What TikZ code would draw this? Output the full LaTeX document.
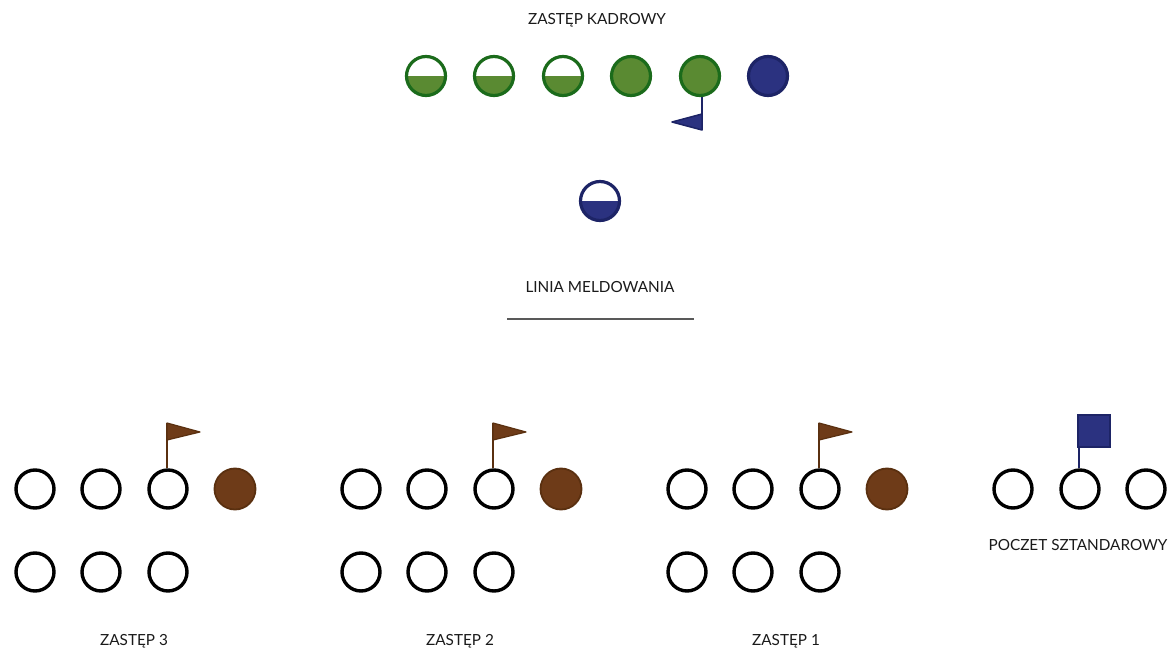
\documentclass[tikz,border=0pt]{standalone}
\usepackage{fontspec}
\setmainfont{Lato}
\definecolor{gfill}{HTML}{5A8A32}
\definecolor{gline}{HTML}{1B6B1B}
\definecolor{nfill}{HTML}{2B3280}
\definecolor{nline}{HTML}{1D2466}
\definecolor{bfill}{HTML}{6E3B18}
\definecolor{bline}{HTML}{5A3010}
\definecolor{txt}{HTML}{1A1A1A}
\begin{document}
\begin{tikzpicture}[x=1pt,y=-1pt,
  person/.style={circle,draw=black,line width=3.4pt,minimum size=38pt,inner sep=0pt,fill=white},
  half/.style={circle,draw=#1line,line width=3.2pt,minimum size=39pt,inner sep=0pt,fill=white,
    path picture={\fill[#1fill] (path picture bounding box.west) rectangle (path picture bounding box.south east);}},
  full/.style={circle,draw=#1line,line width=3.2pt,minimum size=39pt,inner sep=0pt,fill=#1fill},
  lead/.style={circle,draw=bline,line width=1.8pt,minimum size=41pt,inner sep=0pt,fill=bfill},
  label/.style={font=\fontsize{15.3}{18}\selectfont,text=txt,inner sep=0pt},
  pole/.style={line width=2.4pt,draw=#1}
]
\useasboundingbox (0,0) rectangle (1173,652);
\fill[white] (0,0) rectangle (1173,652);

% Zastep kadrowy
\node[label] (tk) at (597,20) {ZASTĘP KADROWY};
\node[half=g] (k1) at (426,76) {};
\node[half=g] (k2) at (494,76) {};
\node[half=g] (k3) at (563,76) {};
\node[full=g] (k4) at (631,76) {};
\node[full=g] (k5) at (700,76) {};
\node[full=n] (k6) at (768,76) {};
\coordinate (kf) at (702,130);
\draw[pole=nline] (k5.south -| kf) -- (kf);
\filldraw[fill=nfill,draw=nline,line width=1.5pt,line join=round] (kf) -- ++(0,-16) -- ++(-30,8) -- cycle;

\node[half=n] (dh) at (600,201) {};

\node[label] (tl) at (600,287) {LINIA MELDOWANIA};
\coordinate (la) at (507,319);
\coordinate (lb) at (694,319);
\draw[line width=1.4pt,draw=black!65] (la) -- (lb);

% Zastepy
\foreach \g/\x/\n in {3/0/3,2/326/2,1/652/1}{
  \begin{scope}[xshift=\x]
    \node[person] (z\g a) at (35,489) {};
    \node[person] (z\g b) at (101,489) {};
    \node[person] (z\g c) at (168,489) {};
    \node[lead] (z\g d) at (235,489) {};
    \node[person] (z\g e) at (35,572) {};
    \node[person] (z\g f) at (101,572) {};
    \node[person] (z\g g) at (168,572) {};
    \coordinate (z\g p) at (167,423);
    \draw[pole=bline] (z\g c.north -| z\g p) -- (z\g p);
    \filldraw[fill=bfill,draw=bline,line width=1.2pt,line join=round] (z\g p) -- ++(33,9) -- ++(-33,8) -- cycle;
    \node[label] (z\g t) at (134,641) {ZASTĘP \n};
  \end{scope}
}

% Poczet
\node[person] (pa) at (1013,489) {};
\node[person] (pb) at (1080,489) {};
\node[person] (pc) at (1146,489) {};
\coordinate (pp) at (1079,447);
\draw[pole=nline] (pb.north -| pp) -- (pp);
\filldraw[fill=nfill,draw=nline,line width=1.2pt] (1078,415) rectangle (1110,447);
\node[label] (pt) at (1078,545) {POCZET SZTANDAROWY};
\end{tikzpicture}
\end{document}
